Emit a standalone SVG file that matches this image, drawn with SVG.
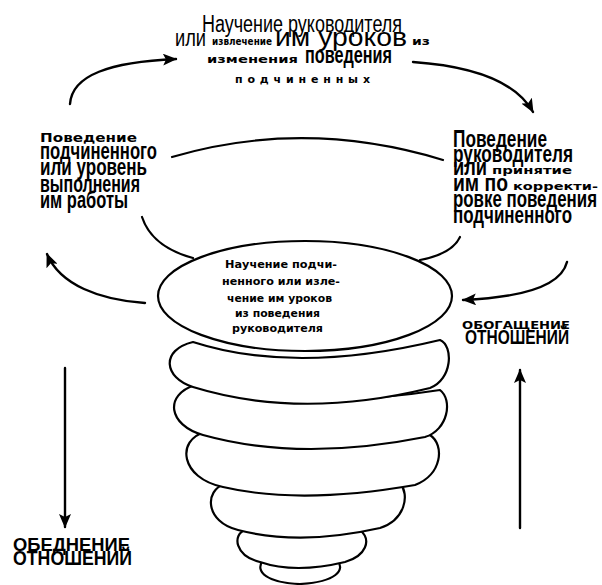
<svg xmlns="http://www.w3.org/2000/svg" width="602" height="585" viewBox="0 0 602 585">
<style>
.bg{fill:#fff}
.out{fill:none;stroke:#000;stroke-width:2.2;stroke-linecap:round}
.disc{fill:#fff;stroke:#000;stroke-width:2.2;stroke-linejoin:round}
.arr{fill:none;stroke:#000;stroke-width:2.4;stroke-linecap:round}
.c{font-family:"Liberation Sans",Arial,sans-serif;fill:#000}
.cb{font-family:"Liberation Sans",Arial,sans-serif;font-weight:bold;fill:#000}
.w{font-family:"DejaVu Sans","Liberation Sans",sans-serif;font-weight:bold;fill:#000}
</style>
<defs>
<marker id="ah" markerUnits="userSpaceOnUse" markerWidth="14" markerHeight="12" viewBox="0 0 14 12" refX="13" refY="6" orient="auto">
<path d="M0,0 L14,6 L0,12 L3,6 Z" fill="#000"/>
</marker>
</defs>
<rect class="bg" x="0" y="0" width="602" height="585"/>

<g id="cycle-outline">
<path class="out" d="M172,157 Q305,118 443,160"/>
<path class="out" d="M142,217 Q152,247 193,258"/>
<path class="out" d="M460,237 Q452,254 420,260"/>
</g>

<g id="stack">
<path class="disc" d="M263,560 Q300,556 337,560 C346,570 336,582 300,584 C268,583 254,572 263,560 Z"/>
<path class="disc" d="M245,530 Q300,535 360,530 C372,540 366,556 345,562 Q295,574 260,562 C235,556 232,535 245,530 Z"/>
<path class="disc" d="M225,484 Q310,500 400,483 C410,495 405,520 380,528 Q300,546 238,530 C205,522 204,490 225,484 Z"/>
<path class="disc" d="M205,432 Q300,458 430,435 C445,445 442,475 415,485 Q300,505 223,487 C180,478 176,440 205,432 Z"/>
<path class="disc" d="M195,385 Q300,412 440,390 C453,400 448,430 425,437 Q300,462 203,435 C168,425 164,395 195,385 Z"/>
<path class="disc" d="M193,342 Q295,375 440,340 C454,346 452,380 430,388 Q300,420 193,387 C164,378 160,350 193,342 Z"/>
</g>

<g id="node-center">
<ellipse class="disc" cx="305" cy="296" rx="147" ry="55"/>
<text class="w" font-size="10.5" x="225" y="268" textLength="112" lengthAdjust="spacingAndGlyphs">Научение подчи-</text>
<text class="w" font-size="10.5" x="222" y="285" textLength="118" lengthAdjust="spacingAndGlyphs">ненного или изле-</text>
<text class="w" font-size="10.5" x="227" y="302" textLength="105" lengthAdjust="spacingAndGlyphs">чение им уроков</text>
<text class="w" font-size="10.5" x="235" y="317" textLength="85" lengthAdjust="spacingAndGlyphs">из поведения</text>
<text class="w" font-size="10.5" x="232" y="332" textLength="91" lengthAdjust="spacingAndGlyphs">руководителя</text>
</g>

<g id="node-top">
<text class="c" font-size="23" x="202" y="32" textLength="200" lengthAdjust="spacingAndGlyphs">Научение руководителя</text>
<text class="c" font-size="24" x="175" y="46" textLength="31" lengthAdjust="spacingAndGlyphs">или</text>
<text class="w" font-size="11" x="212" y="45" textLength="60" lengthAdjust="spacingAndGlyphs">извлечение</text>
<text class="c" font-size="26" x="275" y="46" textLength="132" lengthAdjust="spacingAndGlyphs">им уроков</text>
<text class="w" font-size="11" x="412" y="45" textLength="18" lengthAdjust="spacingAndGlyphs">из</text>
<text class="w" font-size="11" x="207" y="63" textLength="91" lengthAdjust="spacingAndGlyphs">изменения</text>
<text class="cb" font-size="23" x="305" y="63" textLength="87" lengthAdjust="spacingAndGlyphs">поведения</text>
<text class="w" font-size="11" x="235" y="83" textLength="135" lengthAdjust="spacing">подчиненных</text>
</g>

<g id="node-left">
<text class="w" font-size="12" x="40" y="142" textLength="97" lengthAdjust="spacingAndGlyphs">Поведение</text>
<text class="cb" font-size="24" x="40" y="159" textLength="117" lengthAdjust="spacingAndGlyphs">подчиненного</text>
<text class="cb" font-size="24" x="40" y="175" textLength="107" lengthAdjust="spacingAndGlyphs">или уровень</text>
<text class="cb" font-size="24" x="40" y="192" textLength="100" lengthAdjust="spacingAndGlyphs">выполнения</text>
<text class="cb" font-size="24" x="40" y="208" textLength="88" lengthAdjust="spacingAndGlyphs">им работы</text>
</g>

<g id="node-right">
<text class="cb" font-size="24" x="453" y="147" textLength="94" lengthAdjust="spacingAndGlyphs">Поведение</text>
<text class="cb" font-size="24" x="453" y="162" textLength="120" lengthAdjust="spacingAndGlyphs">руководителя</text>
<text class="cb" font-size="24" x="453" y="175" textLength="34" lengthAdjust="spacingAndGlyphs">или</text>
<text class="w" font-size="11" x="492" y="174" textLength="80" lengthAdjust="spacingAndGlyphs">принятие</text>
<text class="cb" font-size="24" x="453" y="191" textLength="55" lengthAdjust="spacingAndGlyphs">им по</text>
<text class="w" font-size="11" x="513" y="190" textLength="85" lengthAdjust="spacingAndGlyphs">корректи-</text>
<text class="cb" font-size="24" x="453" y="207" textLength="144" lengthAdjust="spacingAndGlyphs">ровке поведения</text>
<text class="cb" font-size="24" x="453" y="223" textLength="119" lengthAdjust="spacingAndGlyphs">подчиненного</text>
</g>

<g id="node-enrich">
<text class="w" font-size="11" x="462" y="329" textLength="108" lengthAdjust="spacingAndGlyphs">ОБОГАЩЕНИЕ</text>
<text class="cb" font-size="21" x="465" y="344" textLength="104" lengthAdjust="spacingAndGlyphs">ОТНОШЕНИЙ</text>
</g>

<g id="node-impoverish">
<text class="cb" font-size="18" x="13" y="551" textLength="117" lengthAdjust="spacingAndGlyphs">ОБЕДНЕНИЕ</text>
<text class="cb" font-size="21" x="13" y="565" textLength="119" lengthAdjust="spacingAndGlyphs">ОТНОШЕНИЙ</text>
</g>

<g id="connectors">
<path class="arr" d="M70,104 C72,75 110,62 176,59" marker-end="url(#ah)"/>
<path class="arr" d="M413,62 C470,66 515,80 533,112" marker-end="url(#ah)"/>
<path class="arr" d="M145,303 C100,300 60,285 47,254" marker-end="url(#ah)"/>
<path class="arr" d="M567,262 C560,290 510,298 463,300" marker-end="url(#ah)"/>
<path class="arr" d="M65,368 L65,527" marker-end="url(#ah)"/>
<path class="arr" d="M520,528 L520,370" marker-end="url(#ah)"/>
</g>
</svg>
